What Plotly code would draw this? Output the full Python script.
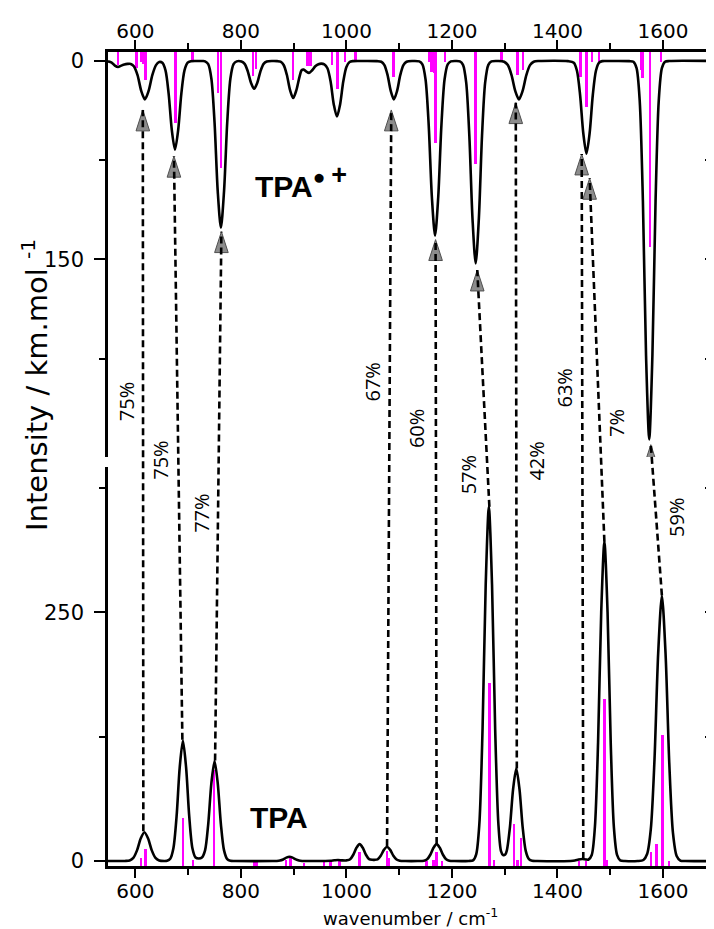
import plotly.graph_objects as go

# ---------------- data ----------------
# TPA•+ broadened spectrum (top panel, drawn downwards): (wavenumber, intensity)
top_curve = [(548, 0.3), (555, 1.2), (561, 3.5), (567, 4.5), (573, 3.5), (579, 2.6), (585, 2.2), (591, 2.2),
             (597, 4), (604, 10.7), (611, 22.6), (618, 29), (625, 22.6), (632, 10.7), (639, 3.1), (645, 0.8),
             (651, 1.4), (657, 7.1), (663, 24.8), (669, 52.3), (675, 67), (681, 52.3), (687, 24.8), (693, 7.1),
             (699, 1.3), (705, 0.2), (715, 0), (728, 0), (732, 0.3), (738, 2.4), (744, 13.4), (750, 46.6),
             (756, 98.3), (762, 126), (768, 98.3), (774, 46.6), (780, 13.4), (786, 2.4), (792, 0.3), (801, 0.4),
             (807, 2.2), (813, 7.8), (819, 16.4), (825, 21), (831, 16.4), (837, 7.8), (843, 2.2), (849, 0.4),
             (860, 0), (869, 0.1), (875, 0.5), (881, 3), (887, 10.4), (893, 21.8), (899, 28), (905, 22.2),
             (911, 12), (915, 7), (919, 6.5), (924, 8), (929, 9), (935, 7), (941, 4), (947, 2.5), (952, 2),
             (958, 2.5), (964, 5.5), (970, 15.5), (976, 32.8), (982, 42), (988, 32.8), (994, 15.5), (1000, 4.5),
             (1006, 0.8), (1012, 0.1), (1030, 0), (1058, 0.1), (1066, 0.55), (1072, 3.1), (1078, 10.7),
             (1084, 22.6), (1090, 29), (1096, 22.6), (1102, 10.7), (1108, 3.1), (1114, 0.55), (1125, 0),
             (1138, 0.3), (1144, 2.5), (1150, 14), (1156, 48.8), (1162, 103), (1168, 132), (1174, 103),
             (1180, 48.8), (1186, 14), (1192, 2.5), (1198, 0.3), (1208, 0), (1215, 0.3), (1221, 2.9),
             (1227, 16.2), (1233, 56.6), (1239, 119.3), (1245, 153), (1251, 119.3), (1257, 56.6), (1263, 16.2),
             (1269, 2.9), (1275, 0.3), (1288, 0), (1299, 0.55), (1306, 3.1), (1313, 10.7), (1320, 22.6),
             (1327, 29), (1334, 22.6), (1341, 10.7), (1348, 3.1), (1355, 0.55), (1365, 0), (1420, 0.1),
             (1431, 1.3), (1437, 7.4), (1443, 25.9), (1449, 54.6), (1455, 70), (1461, 54.6), (1467, 25.9),
             (1473, 7.4), (1479, 1.3), (1485, 0.1), (1495, 0), (1536, 0.1), (1544, 0.6), (1550, 5.4),
             (1556, 30.3), (1562, 105.8), (1568, 223), (1574, 286), (1580, 223), (1586, 105.8), (1592, 30.3),
             (1598, 5.4), (1604, 0.6), (1612, 0), (1693, 0)]

# TPA•+ computed sticks
top_stick_wn = [567, 602, 610, 615, 619, 676, 708, 757, 762, 823, 829, 899, 926, 932, 973, 983, 997, 1017,
                1089, 1157, 1161, 1166, 1169, 1187, 1245, 1294, 1324, 1335, 1444, 1455, 1465, 1479, 1558,
                1561, 1575, 1596]
top_stick_int = [3, 5.5, 0.5, 2, 14, 47, 0, 24, 81, 11, 6, 14, 4, 4, 3, 21, 0.5, 0,
                 12, 0.5, 8, 9, 62, 0.5, 77.5, 0, 10.6, 7, 12, 34.6, 0.5, 0.5, 7,
                 13, 140.7, 0.5]

# TPA broadened spectrum (bottom panel)
bot_curve = [(548, 0), (580, 0.1), (589, 0.55), (596, 3.1), (603, 10.7), (610, 22.6), (617, 29), (624, 22.6),
             (631, 10.7), (638, 3.1), (645, 0.55), (655, 0.1), (660, 0.3), (666, 2.3), (672, 12.8), (678, 44.8),
             (684, 94.4), (690, 121), (696, 94.4), (702, 44.8), (708, 12.8), (714, 3.5), (720, 2.5), (726, 3.5),
             (732, 10.7), (738, 37.2), (744, 78.4), (750, 100.5), (756, 78.4), (762, 37.2), (768, 10.7),
             (774, 1.9), (780, 0.2), (790, 0), (860, 0), (868, 0.1), (874, 0.5), (880, 1.6), (886, 3.4),
             (892, 4.3), (898, 3.4), (904, 1.6), (910, 0.5), (916, 0.1), (930, 0), (960, 0.1), (970, 0.3),
             (977, 0.7), (984, 1), (991, 0.7), (998, 0.5), (1001, 0.7), (1007, 1.8), (1013, 6.3), (1019, 13.3),
             (1025, 17), (1031, 13.3), (1037, 6.3), (1043, 1.9), (1049, 1.2), (1053, 1.2), (1059, 1.6),
             (1065, 5.3), (1071, 11.2), (1077, 14.4), (1083, 11.2), (1089, 5.3), (1095, 1.5), (1101, 0.3),
             (1112, 0), (1135, 0), (1147, 0.3), (1153, 1.8), (1159, 6.3), (1165, 13.3), (1171, 17), (1177, 13.3),
             (1183, 6.3), (1189, 1.8), (1195, 0.3), (1205, 0), (1232, 0.1), (1240, 0.7), (1246, 6.8), (1252, 37.7),
             (1258, 131.7), (1264, 277.7), (1270, 356), (1276, 277.7), (1282, 131.7), (1288, 37.7), (1293, 10),
             (1297, 6), (1301, 6.5), (1304, 10.5), (1310, 34.4), (1316, 72.5), (1322, 93), (1328, 72.5),
             (1334, 34.4), (1340, 9.9), (1346, 1.8), (1352, 0.2), (1362, 0), (1425, 0.1), (1433, 0.5),
             (1440, 1.5), (1447, 2), (1454, 1.6), (1459, 1.5), (1465, 6.1), (1471, 34), (1477, 118.8),
             (1483, 250.4), (1489, 321), (1495, 250.4), (1501, 118.8), (1507, 34), (1513, 6.1), (1519, 0.6),
             (1528, 0), (1552, 0), (1563, 1), (1570, 7), (1577, 32), (1584, 102), (1591, 209), (1598, 266.6),
             (1605, 208), (1612, 98.6), (1619, 28.3), (1626, 5.1), (1633, 0.5), (1642, 0), (1693, 0)]

# TPA computed sticks
bot_stick_wn = [611, 619, 690, 709, 749, 826, 830, 886, 894, 919, 957, 970, 987, 1025, 1077, 1080, 1152,
                1165, 1171, 1181, 1271, 1280, 1318, 1324, 1331, 1441, 1454, 1489, 1493, 1577, 1588, 1599, 1612]
bot_stick_int = [2.7, 11.7, 43, 0.5, 91.5, -1, -1, 1, 2.7, -2, -1.5, -1, 0, 9.4, 10.4, 3, 0,
                 1, 8.7, 0, 178.6, 1, 37, 1, 22.8, 0, 0, 162.5, 1, 9.4, 17, 126.6, 0]

# correlation arrows: bottom (TPA) peak -> top (TPA•+) peak
conn_bot_wn = [615, 689, 751, 1077, 1171, 1271, 1323, 1449, 1489, 1598]
conn_bot_int = [30, 122, 101, 15, 17, 356, 93, 2, 321, 267]
conn_top_wn = [614, 673, 763, 1085, 1169, 1248, 1321, 1446, 1461, 1577]
conn_top_int = [37, 72, 129, 37, 135, 158, 31.5, 70.3, 88.7, 290]
conn_labels = ["75%", "75%", "77%", "67%", "60%", "57%", "42%", "63%", "7%", "59%"]

x_ticks = [600, 800, 1000, 1200, 1400, 1600]

# ---------------- layout constants ----------------
OFF = 8                       # page body margin added by the browser
W, H = 714 - OFF, 929 - OFF   # figure size so that it ends at the window edge
ML, MR, MT, MB = 108 - OFF, 2, 52 - OFF, 63
PH = H - MT - MB
PW = W - ML - MR
X_RANGE = [548, 1693]
TOP_DOMAIN = [0.5025, 1.0]
BOT_DOMAIN = [0.0, 0.490]
TOP_RANGE = [299.3, -6.8]
BOT_RANGE = [-5, 396]

# label placement (page pixel y of centre, wavenumber of centre)
label_wn = [583, 648, 724, 1050, 1132, 1233, 1361, 1414, 1511, 1627]
label_py = [401.7, 460, 513, 381.7, 429, 475, 460.7, 387.7, 423, 517.7]


def top_to_paper(v):
    lo, hi = TOP_RANGE
    return TOP_DOMAIN[0] + (v - lo) / (hi - lo) * (TOP_DOMAIN[1] - TOP_DOMAIN[0])


def bot_to_paper(v):
    lo, hi = BOT_RANGE
    return BOT_DOMAIN[0] + (v - lo) / (hi - lo) * (BOT_DOMAIN[1] - BOT_DOMAIN[0])


def py_to_paper(py):
    return (H - MB - (py - OFF)) / PH


def px_to_paper(px):
    return ((px - OFF) - ML) / PW


TICK_FONT = dict(family="DejaVu Sans", size=21, color="black")
XTICK_FONT = dict(family="DejaVu Sans", size=20, color="black")
LW = 2.6

fig = go.Figure()

# sticks
fig.add_trace(go.Bar(x=top_stick_wn, y=[v - TOP_RANGE[1] for v in top_stick_int], base=TOP_RANGE[1],
                     width=4.5, marker=dict(color="#FF00FF", line=dict(width=0)),
                     xaxis="x2", yaxis="y2", showlegend=False, hoverinfo="skip"))
fig.add_trace(go.Bar(x=bot_stick_wn, y=[v - BOT_RANGE[0] for v in bot_stick_int], base=BOT_RANGE[0],
                     width=4.5, marker=dict(color="#FF00FF", line=dict(width=0)),
                     xaxis="x", yaxis="y", showlegend=False, hoverinfo="skip"))

# broadened spectra
fig.add_trace(go.Scatter(x=[p[0] for p in top_curve], y=[p[1] for p in top_curve], mode="lines",
                         line=dict(color="black", width=LW, shape="spline", smoothing=0.8),
                         xaxis="x2", yaxis="y2", showlegend=False, hoverinfo="skip"))
fig.add_trace(go.Scatter(x=[p[0] for p in bot_curve], y=[p[1] for p in bot_curve], mode="lines",
                         line=dict(color="black", width=LW, shape="spline", smoothing=0.8),
                         xaxis="x", yaxis="y", showlegend=False, hoverinfo="skip"))

# dashed connectors
for bw, bi, tw, ti in zip(conn_bot_wn, conn_bot_int, conn_top_wn, conn_top_int):
    fig.add_shape(type="line", xref="x", yref="paper", x0=bw, y0=bot_to_paper(bi), x1=tw,
                  y1=top_to_paper(ti), line=dict(color="black", width=2.6, dash="7px,4px"), layer="above")

# arrow heads
fig.add_trace(go.Scatter(x=conn_top_wn, y=conn_top_int, mode="markers",
                         marker=dict(symbol="arrow", size=22, color="#8c8c8c",
                                     line=dict(color="#505050", width=1)),
                         xaxis="x2", yaxis="y2", showlegend=False, hoverinfo="skip"))

# dummy traces for the right-hand mirror axes
fig.add_trace(go.Scatter(x=[None], y=[None], xaxis="x", yaxis="y3", showlegend=False, hoverinfo="skip"))
fig.add_trace(go.Scatter(x=[None], y=[None], xaxis="x2", yaxis="y4", showlegend=False, hoverinfo="skip"))

# percentage labels
for txt, lw_, lp in zip(conn_labels, label_wn, label_py):
    fig.add_annotation(x=lw_, y=py_to_paper(lp), xref="x", yref="paper", text=txt, showarrow=False,
                       textangle=-90, xanchor="center", yanchor="middle",
                       font=dict(family="Open Sans", size=20, color="black"))

# molecule labels
fig.add_annotation(x=872, y=44, xref="x", yref="y", text="<b>TPA</b>", showarrow=False,
                   xanchor="center", yanchor="middle",
                   font=dict(family="Liberation Sans", size=30, color="black"))
fig.add_annotation(x=823, y=91, xref="x2", yref="y2",
                   text="<b>TPA</b><sup><b>\u25cf <span style='font-size:27px'>+</span></b></sup>",
                   showarrow=False, xanchor="left", yanchor="middle",
                   font=dict(family="Liberation Sans", size=30, color="black"))

# axis titles
fig.add_annotation(x=px_to_paper(35), y=py_to_paper(385), xref="paper", yref="paper",
                   text="Intensity / km.mol <sup>-1</sup>", showarrow=False, textangle=-90,
                   xanchor="center", yanchor="middle",
                   font=dict(family="DejaVu Sans", size=29, color="black"))
fig.add_annotation(x=0.5, y=py_to_paper(917), xref="paper", yref="paper",
                   text="wavenumber / cm<sup>-1</sup>", showarrow=False,
                   xanchor="center", yanchor="middle",
                   font=dict(family="DejaVu Sans", size=18, color="black"))

xcommon = dict(range=X_RANGE, tickmode="array", tickvals=x_ticks, ticks="outside", ticklen=9, tickwidth=2,
               tickcolor="black", showline=True, linecolor="black", linewidth=LW, showgrid=False,
               zeroline=False, tickfont=XTICK_FONT,
               minor=dict(dtick=100, tick0=0, ticks="outside", ticklen=6, tickwidth=2, tickcolor="black"))

fig.update_layout(
    width=W, height=H, margin=dict(l=ML, r=MR, t=MT, b=MB, autoexpand=False),
    paper_bgcolor="white", plot_bgcolor="white", bargap=0, barmode="overlay",
    xaxis=dict(anchor="y", side="bottom", ticklabelstandoff=-4, **xcommon),
    xaxis2=dict(anchor="y2", side="top", matches="x", ticklabelstandoff=-6, **xcommon),
    yaxis=dict(domain=BOT_DOMAIN, range=BOT_RANGE, anchor="x", tickmode="array", tickvals=[0, 250],
               ticks="outside", ticklen=11, tickwidth=2, tickcolor="black", showline=True,
               linecolor="black", linewidth=LW, showgrid=False, zeroline=False, tickfont=TICK_FONT,
               ticklabelstandoff=6,
               minor=dict(tickvals=[125, 375], ticks="outside", ticklen=6, tickwidth=2, tickcolor="black")),
    yaxis2=dict(domain=TOP_DOMAIN, range=TOP_RANGE, anchor="x2", tickmode="array", tickvals=[0, 150],
                ticks="outside", ticklen=11, tickwidth=2, tickcolor="black", showline=True,
                linecolor="black", linewidth=LW, showgrid=False, zeroline=False, tickfont=TICK_FONT,
                ticklabelstandoff=6,
                minor=dict(tickvals=[75, 225], ticks="outside", ticklen=6, tickwidth=2, tickcolor="black")),
    yaxis3=dict(overlaying="y", side="right", anchor="x", range=BOT_RANGE, tickmode="array",
                tickvals=[0, 125, 250, 375], ticks="inside", ticklen=7, tickwidth=2, tickcolor="black",
                showticklabels=False, showline=True, linecolor="black", linewidth=LW, showgrid=False,
                zeroline=False),
    yaxis4=dict(overlaying="y2", side="right", anchor="x2", range=TOP_RANGE, tickmode="array",
                tickvals=[75, 150, 225], ticks="inside", ticklen=7, tickwidth=2, tickcolor="black",
                showticklabels=False, showline=True, linecolor="black", linewidth=LW, showgrid=False,
                zeroline=False),
)

fig.write_html("out.html")
